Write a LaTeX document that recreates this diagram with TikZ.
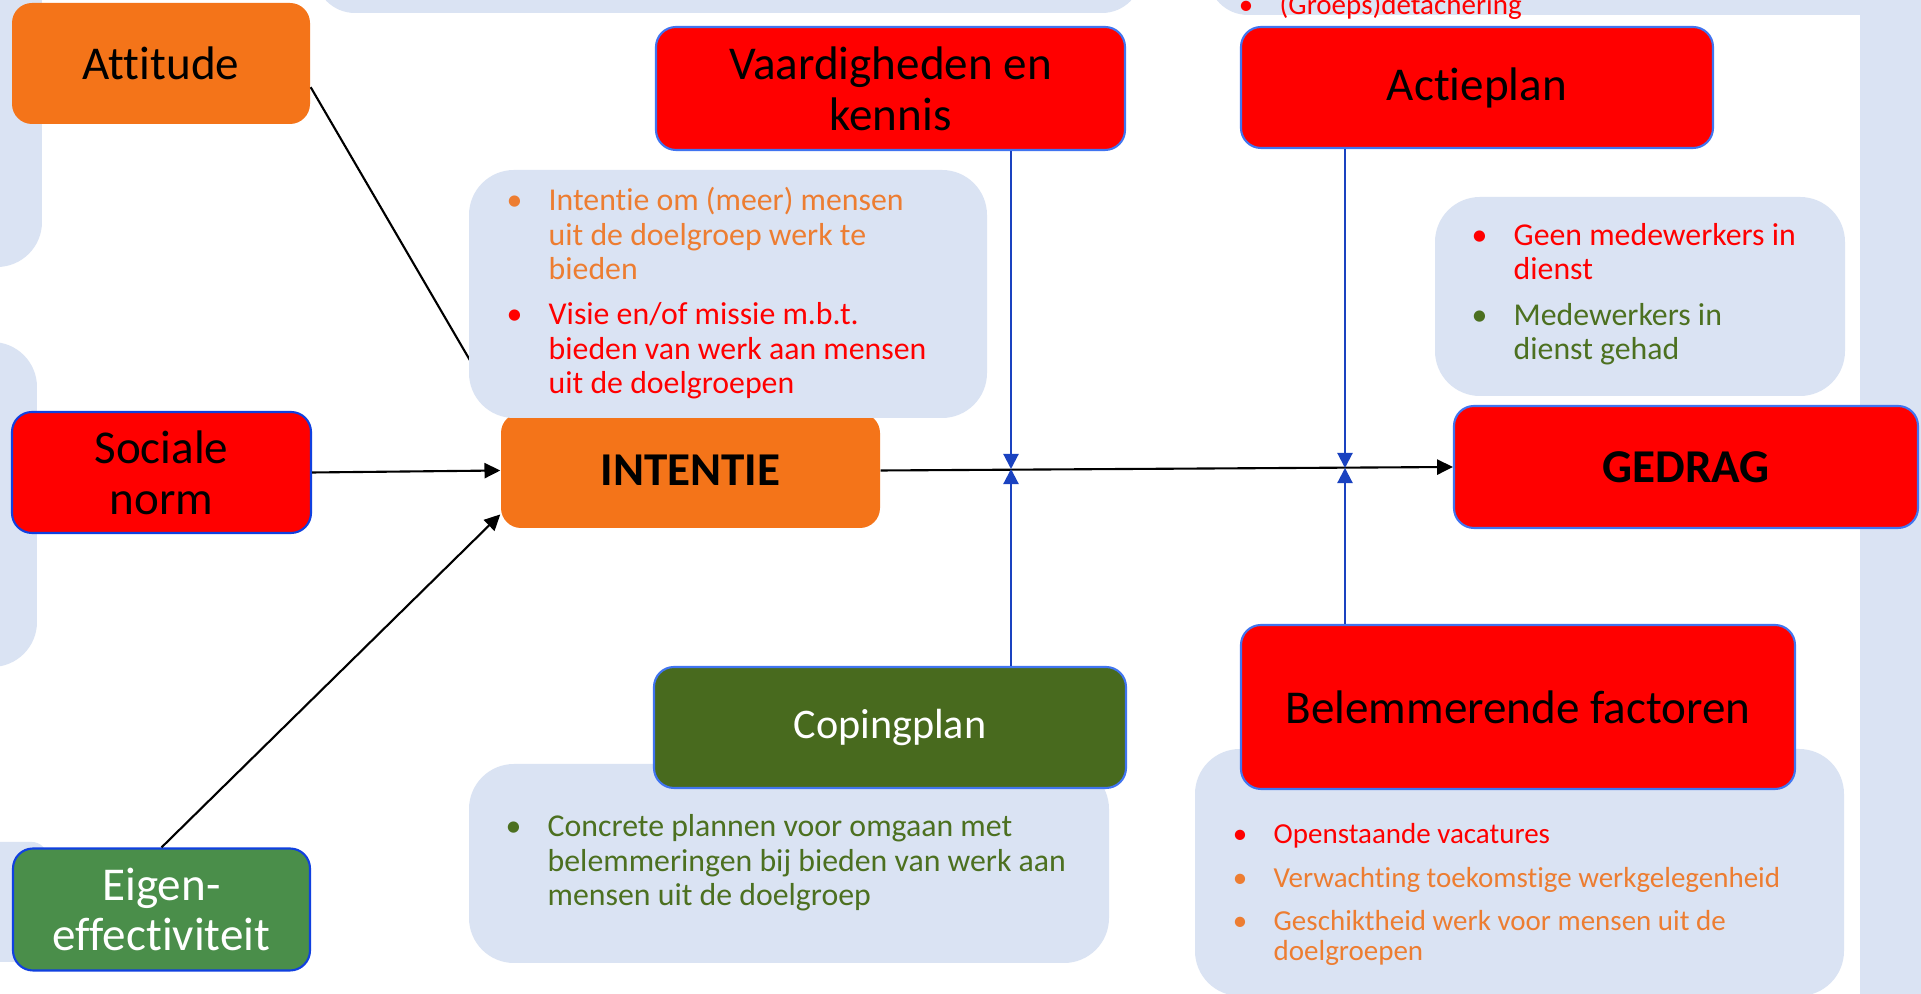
\documentclass[tikz,border=0pt]{standalone}
\usepackage{fontspec}
\setmainfont{Carlito}[Ligatures=CommonOff]
\usetikzlibrary{arrows.meta}
\definecolor{paleblue}{HTML}{DAE3F3}
\definecolor{boxorange}{HTML}{F47419}
\definecolor{txtorange}{HTML}{ED7D31}
\definecolor{boxgreen}{RGB}{74,142,74}
\definecolor{copgreen}{RGB}{72,106,30}
\definecolor{txtgreen}{RGB}{76,112,32}
\definecolor{lineA}{RGB}{16,64,224}
\definecolor{lineB}{RGB}{64,116,240}
\definecolor{arrowblue}{RGB}{26,66,192}
\newcommand{\pnt}{\llap{\textbullet\hspace{7.5pt}}}
\tikzset{
	box/.style={rounded corners=0.2cm, inner sep=0pt, align=center, font=\fontsize{13.4}{14.5}\selectfont},
	redbox/.style={box, fill=red, draw=lineB, line width=0.6pt},
	bubble/.style={fill=paleblue, rounded corners=0.45cm, inner sep=0pt},
	bullets/.style={anchor=base west, inner sep=0pt},
	conn/.style={line width=0.6pt, -{Triangle[length=4.5pt,width=4.3pt]}},
	hook/.style={draw=arrowblue, line width=0.6pt, -{Triangle[length=4.3pt,width=4.3pt]}}
}
\begin{document}
\begin{tikzpicture}[x=1cm,y=-1cm]
	\useasboundingbox (0,0) rectangle (19.21,9.94);
	\clip (0,0) rectangle (19.21,9.94);
	\fill[white] (0,0) rectangle (19.21,9.94);
	\fill[paleblue,rounded corners=0.45cm] (-1,-1) rectangle (0.42,2.67);
	\fill[paleblue,rounded corners=0.45cm] (-1,3.42) rectangle (0.37,6.67);
	\fill[paleblue,rounded corners=0.15cm] (-1,8.42) rectangle (0.47,9.62);
	\fill[paleblue,rounded corners=0.4cm] (3.15,-1) rectangle (11.42,0.13);
	\fill[paleblue,rounded corners=0.4cm] (12.08,-1) rectangle (20,0.15);
	\fill[paleblue] (18.6,0) rectangle (19.3,9.94);

	\node[box, fill=boxorange, minimum width=2.98cm, minimum height=1.21cm] (att) at (1.61,0.635) {Attitude};
	\node[redbox, draw=lineA, minimum width=2.99cm, minimum height=1.21cm] (sn) at (1.615,4.725) {Sociale\\norm};
	\node[box, fill=boxgreen, draw=lineA, line width=0.6pt, text=white, minimum width=2.97cm, minimum height=1.22cm] (eig) at (1.615,9.095) {Eigen-\\effectiviteit};
	\node[redbox, minimum width=4.69cm, minimum height=1.23cm] (vk) at (8.905,0.885) {Vaardigheden en\\kennis};
	\node[redbox, minimum width=4.72cm, minimum height=1.21cm] (ap) at (14.77,0.875) {Actieplan};
	\node[box, fill=boxorange, minimum width=3.79cm, minimum height=1.15cm] (int) at (6.905,4.705) {\textbf{INTENTIE}};
	\node[redbox, minimum width=4.64cm, minimum height=1.22cm] (ged) at (16.86,4.67) {\textbf{GEDRAG}};

	\node[bubble, minimum width=6.40cm, minimum height=1.99cm] (copb) at (7.89,8.635) {};
	\node[box, fill=copgreen, draw=lineB, line width=0.6pt, text=white, font=\fontsize{12}{14}\selectfont, minimum width=4.72cm, minimum height=1.21cm] (cop) at (8.9,7.275) {Copingplan};
	\node[bubble, minimum width=6.49cm, minimum height=2.47cm] (belb) at (15.195,8.725) {};
	\node[redbox, minimum width=5.54cm, minimum height=1.64cm] (bel) at (15.18,7.07) {Belemmerende factoren};
	\node[bubble, minimum width=4.10cm, minimum height=1.99cm] (geb) at (16.4,2.965) {};

	\draw[conn] (att.-9.3) -- (int.north west);
	\draw[conn] (sn.east) -- (int.west);
	\draw[conn] (eig.north) -- (int.193);
	\draw[conn] (int.east) -- (ged.west);
	\coordinate (j1) at (10.11,4.69);
	\coordinate (j2) at (13.45,4.68);
	\draw[hook] (vk.south -| j1) -- (j1);
	\draw[hook] (cop.north -| j1) -- (j1);
	\draw[hook] (ap.south -| j2) -- (j2);
	\draw[hook] (bel.north -| j2) -- (j2);

	\node[bubble, minimum width=5.18cm, minimum height=2.48cm] (intb) at (7.28,2.94) {};

	\node[bullets, font=\fontsize{8.25}{8.55}\selectfont] (grt) at (12.79,0.15) {\begin{tabular}[t]{@{}l@{}}
		\textcolor{red}{\pnt(Groeps)detachering}
	\end{tabular}};
	\node[bullets, font=\fontsize{9.05}{9.8}\selectfont] (intt) at (5.48,2.11) {\begin{tabular}[t]{@{}l@{}}
		\textcolor{txtorange}{\pnt Intentie om (meer) mensen}\\
		\textcolor{txtorange}{uit de doelgroep werk te}\\
		\textcolor{txtorange}{bieden}\\[3pt]
		\textcolor{red}{\pnt Visie en/of missie m.b.t.}\\
		\textcolor{red}{bieden van werk aan mensen}\\
		\textcolor{red}{uit de doelgroepen}
	\end{tabular}};
	\node[bullets, font=\fontsize{9.05}{9.7}\selectfont] (get) at (15.13,2.455) {\begin{tabular}[t]{@{}l@{}}
		\textcolor{red}{\pnt Geen medewerkers in}\\
		\textcolor{red}{dienst}\\[3.4pt]
		\textcolor{txtgreen}{\pnt Medewerkers in}\\
		\textcolor{txtgreen}{dienst gehad}
	\end{tabular}};
	\node[bullets, font=\fontsize{9.05}{9.8}\selectfont] (copt) at (5.47,8.37) {\begin{tabular}[t]{@{}l@{}}
		\textcolor{txtgreen}{\pnt Concrete plannen voor omgaan met}\\
		\textcolor{txtgreen}{belemmeringen bij bieden van werk aan}\\
		\textcolor{txtgreen}{mensen uit de doelgroep}
	\end{tabular}};
	\node[bullets, font=\fontsize{8.25}{8.55}\selectfont] (belt) at (12.73,8.44) {\begin{tabular}[t]{@{}l@{}}
		\textcolor{red}{\pnt Openstaande vacatures}\\[3.7pt]
		\textcolor{txtorange}{\pnt Verwachting toekomstige werkgelegenheid}\\[3.7pt]
		\textcolor{txtorange}{\pnt Geschiktheid werk voor mensen uit de}\\
		\textcolor{txtorange}{doelgroepen}
	\end{tabular}};
\end{tikzpicture}
\end{document}
